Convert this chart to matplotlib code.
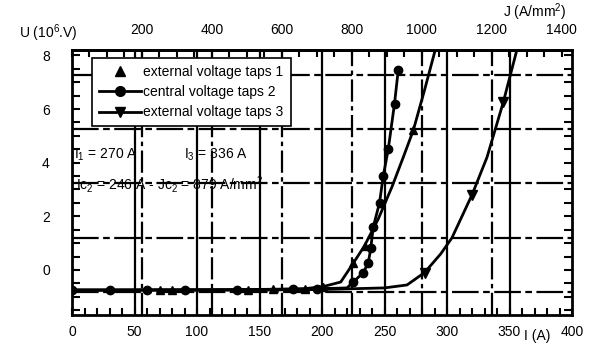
import numpy as np
import matplotlib
matplotlib.use('Agg')
import matplotlib.pyplot as plt
import matplotlib.ticker as ticker
from matplotlib.lines import Line2D

plt.rcParams['font.family'] = ['Liberation Sans', 'DejaVu Sans']
plt.rcParams['mathtext.fontset'] = 'custom'
plt.rcParams['mathtext.rm'] = 'Liberation Sans'
plt.rcParams['mathtext.it'] = 'Liberation Sans:italic'

# данные
i1 = [0, 30, 70, 80, 141, 161, 186, 201, 215, 225, 234, 245, 256, 265, 273, 282, 290]
u1 = [-0.75, -0.75, -0.74, -0.74, -0.73, -0.72, -0.7, -0.62, -0.45, 0.25, 0.9, 1.9, 3.1, 4.2, 5.2, 6.7, 8.1]
i2 = [0, 30, 60, 90, 132, 177, 196, 213, 220, 225, 233, 237, 239, 241, 246, 249, 253, 258, 261]
u2 = [-0.75, -0.75, -0.75, -0.75, -0.74, -0.72, -0.7, -0.68, -0.67, -0.45, -0.1, 0.26, 0.8, 1.6, 2.5, 3.5, 4.5, 6.2, 7.45]
i3 = [0, 50, 100, 150, 200, 250, 268, 282, 295, 304, 320, 332, 345, 357]
u3 = [-0.75, -0.75, -0.75, -0.75, -0.73, -0.67, -0.56, -0.1, 0.6, 1.2, 2.8, 4.2, 6.25, 8.4]
mk1 = [2, 3, 4, 5, 6, 7, 9, 10, 14]
mk2 = [0, 1, 2, 3, 4, 5, 6, 9, 10, 11, 12, 13, 14, 15, 16, 17, 18]
mk3 = [7, 10, 12]
labels = ['external voltage taps 1', 'central voltage taps 2', 'external voltage taps 3']

k = 3.573  # J = k * I
i_grid = [50, 100, 150, 200, 250, 300, 350]
j_grid = [200, 400, 600, 800, 1000, 1200]
u_grid = [-0.82, 1.2, 3.25, 5.25, 7.25]

fig = plt.figure(figsize=(5.9, 3.45), dpi=100)
ax = fig.add_axes([72/590, 30/345, 500/590, 265/345])
ax.set_xlim(0, 400)
ax.set_ylim(-1.68, 8.2)

# сетка
for x in i_grid:
    ax.axvline(x, color='k', lw=1.6, zorder=1)
for j in j_grid:
    ax.axvline(j / k, color='k', lw=1.6, ls=(0, (10, 2, 2, 2)), zorder=1)
for y in u_grid:
    ax.axhline(y, color='k', lw=1.6, ls=(0, (12, 2, 3, 2)), zorder=1)

ax.plot(i1, u1, 'k-', lw=2, marker='^', ms=6, markevery=mk1, zorder=3)
ax.plot(i2, u2, 'k-', lw=2, marker='o', ms=6, markevery=mk2, zorder=3)
ax.plot(i3, u3, 'k-', lw=2, marker='v', ms=7, markevery=mk3, zorder=3)

handles = [Line2D([], [], color='k', ls='none', marker='^', ms=7),
           Line2D([], [], color='k', lw=2, marker='o', ms=7),
           Line2D([], [], color='k', lw=2, marker='v', ms=7)]
leg = ax.legend(handles, labels, loc='upper left', bbox_to_anchor=(0.04, 0.97),
                borderaxespad=0, fancybox=False, framealpha=1, edgecolor='k',
                fontsize=10, handlelength=3, handletextpad=0.2, labelspacing=0.45,
                borderpad=0.5)
leg.get_frame().set_linewidth(1.2)
leg.set_zorder(4)

ax.text(2, 4.28, 'I$_1$ = 270 A', fontsize=10, va='center', zorder=5)
ax.text(90, 4.28, 'I$_3$ = 336 A', fontsize=10, va='center', zorder=5)
ax.text(3, 3.17, 'Ic$_2$ = 246 A - Jc$_2$ = 879 A/mm$^2$', fontsize=10, va='center', zorder=5)

# оси и деления
for s in ax.spines.values():
    s.set_linewidth(2)
ax.xaxis.set_major_locator(ticker.MultipleLocator(50))
ax.xaxis.set_minor_locator(ticker.MultipleLocator(10))
ax.yaxis.set_major_locator(ticker.FixedLocator([0, 2, 4, 6, 8]))
ax.yaxis.set_minor_locator(ticker.MultipleLocator(0.5))
ax.tick_params(axis='x', which='both', direction='in', length=5, width=1.5, labelsize=10, pad=7)
ax.tick_params(axis='y', which='both', direction='in', length=6, width=1.5, labelsize=10, pad=16,
               right=True)

sec = ax.secondary_xaxis('top', functions=(lambda x: x * k, lambda x: x / k))
sec.xaxis.set_major_locator(ticker.FixedLocator([200, 400, 600, 800, 1000, 1200, 1400]))
sec.xaxis.set_minor_locator(ticker.MultipleLocator(50))
sec.tick_params(which='both', direction='in', length=5, width=1.5, labelsize=10, pad=9)
sec.spines['top'].set_linewidth(2)

fig.text(48/590, 1 - 33/345, 'U (10$^6$.V)', fontsize=10, ha='center', va='center')
fig.text(535/590, 1 - 12/345, 'J (A/mm$^2$)', fontsize=10, ha='center', va='center')
fig.text(537/590, 1 - 336/345, 'I (A)', fontsize=10, ha='center', va='center')

fig.savefig('out.png')
